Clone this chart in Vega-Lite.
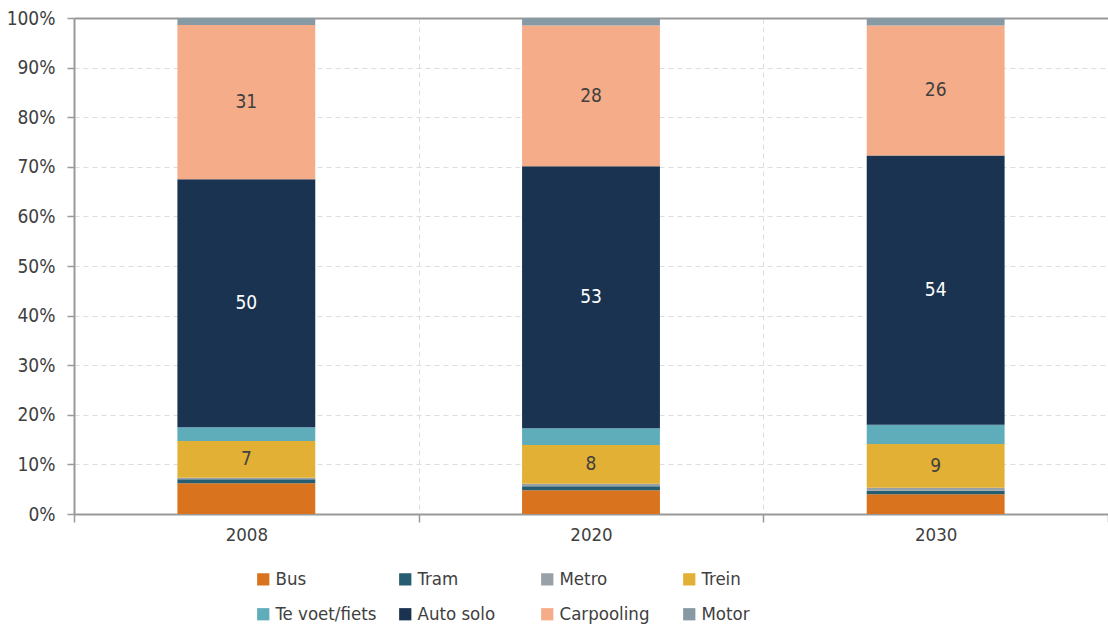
{
  "$schema": "https://vega.github.io/schema/vega-lite/v6.json",
  "width": 1034,
  "height": 496,
  "padding": {"left": 6, "top": 9, "right": 0, "bottom": 0},
  "config": {
    "view": {"stroke": null},
    "font": "DejaVu Sans Condensed",
    "axis": {"labelFont": "DejaVu Sans Condensed", "labelColor": "#404040", "labelFontSize": 18.5, "titleFontSize": 17}
  },
  "data": {
    "values": [
      {"year": "2008", "mode": "Bus", "k": 1, "v": 6.2},
      {"year": "2008", "mode": "Tram", "k": 2, "v": 0.8},
      {"year": "2008", "mode": "Metro", "k": 3, "v": 0.3},
      {"year": "2008", "mode": "Trein", "k": 4, "v": 7.4},
      {"year": "2008", "mode": "Te voet/fiets", "k": 5, "v": 2.8},
      {"year": "2008", "mode": "Auto solo", "k": 6, "v": 50.0},
      {"year": "2008", "mode": "Carpooling", "k": 7, "v": 31.1},
      {"year": "2008", "mode": "Motor", "k": 8, "v": 1.4},
      {"year": "2020", "mode": "Bus", "k": 1, "v": 4.8},
      {"year": "2020", "mode": "Tram", "k": 2, "v": 0.8},
      {"year": "2020", "mode": "Metro", "k": 3, "v": 0.5},
      {"year": "2020", "mode": "Trein", "k": 4, "v": 7.8},
      {"year": "2020", "mode": "Te voet/fiets", "k": 5, "v": 3.4},
      {"year": "2020", "mode": "Auto solo", "k": 6, "v": 52.8},
      {"year": "2020", "mode": "Carpooling", "k": 7, "v": 28.4},
      {"year": "2020", "mode": "Motor", "k": 8, "v": 1.5},
      {"year": "2030", "mode": "Bus", "k": 1, "v": 4.0},
      {"year": "2030", "mode": "Tram", "k": 2, "v": 0.7},
      {"year": "2030", "mode": "Metro", "k": 3, "v": 0.6},
      {"year": "2030", "mode": "Trein", "k": 4, "v": 8.8},
      {"year": "2030", "mode": "Te voet/fiets", "k": 5, "v": 3.9},
      {"year": "2030", "mode": "Auto solo", "k": 6, "v": 54.3},
      {"year": "2030", "mode": "Carpooling", "k": 7, "v": 26.2},
      {"year": "2030", "mode": "Motor", "k": 8, "v": 1.5}
    ]
  },
  "transform": [
    {"stack": "v", "groupby": ["year"], "sort": [{"field": "k", "order": "ascending"}], "offset": "normalize", "as": ["y0", "y1"]},
    {"calculate": "(datum.y0 + datum.y1) / 2", "as": "ym"}
  ],
  "encoding": {
    "x": {
      "field": "year",
      "type": "ordinal",
      "scale": {"paddingInner": 0, "paddingOuter": 0},
      "axis": {
        "title": null,
        "labelAngle": 0,
        "labelPadding": 3,
        "tickBand": "extent",
        "tickSize": 8,
        "tickColor": "#999999",
        "tickWidth": 1.5,
        "domainColor": "#999999",
        "domainWidth": 2,
        "grid": true,
        "gridColor": "#dddddd",
        "gridDash": [5, 4]
      }
    }
  },
  "layer": [
    {
      "mark": {"type": "bar", "width": {"band": 0.4}},
      "encoding": {
        "y": {
          "field": "y0",
          "type": "quantitative",
          "scale": {"domain": [0, 1]},
          "axis": {
            "title": null,
            "values": [0, 0.1, 0.2, 0.3, 0.4, 0.5, 0.6, 0.7, 0.8, 0.9, 1],
            "format": ".0%",
            "labelFontSize": 19,
            "tickSize": 7,
            "tickColor": "#999999",
            "tickWidth": 1.5,
            "labelPadding": 12,
            "domainColor": "#999999",
            "domainWidth": 2,
            "grid": true,
            "gridColor": {"condition": {"test": "datum.value === 1", "value": "#999999"}, "value": "#dddddd"},
            "gridWidth": {"condition": {"test": "datum.value === 1", "value": 2}, "value": 1},
            "gridDash": {"condition": {"test": "datum.value === 1", "value": []}, "value": [5, 4]}
          }
        },
        "y2": {"field": "y1"},
        "color": {
          "field": "mode",
          "type": "nominal",
          "scale": {
            "domain": ["Bus", "Tram", "Metro", "Trein", "Te voet/fiets", "Auto solo", "Carpooling", "Motor"],
            "range": ["#DA731E", "#265D70", "#98A0A8", "#E2B034", "#5FADBB", "#1A3350", "#F5AC88", "#8799A2"]
          },
          "legend": {
            "title": null,
            "orient": "none",
            "legendX": 180,
            "legendY": 552,
            "direction": "horizontal",
            "columns": 4,
            "gridAlign": "all",
            "columnPadding": 19,
            "rowPadding": 16,
            "symbolType": "square",
            "symbolSize": 150,
            "symbolStrokeWidth": 0,
            "labelFont": "DejaVu Sans Condensed",
            "labelFontSize": 18.5,
            "labelColor": "#404040",
            "labelOffset": 3
          }
        }
      }
    },
    {
      "transform": [{"filter": "datum.mode === 'Trein' || datum.mode === 'Auto solo' || datum.mode === 'Carpooling'"}],
      "mark": {"type": "text", "fontSize": 19, "font": "DejaVu Sans Condensed"},
      "encoding": {
        "y": {"field": "ym", "type": "quantitative"},
        "text": {"field": "v", "type": "quantitative", "format": ".0f"},
        "color": {"condition": {"test": "datum.mode === 'Auto solo'", "value": "#ffffff"}, "value": "#404040"}
      }
    }
  ]
}
